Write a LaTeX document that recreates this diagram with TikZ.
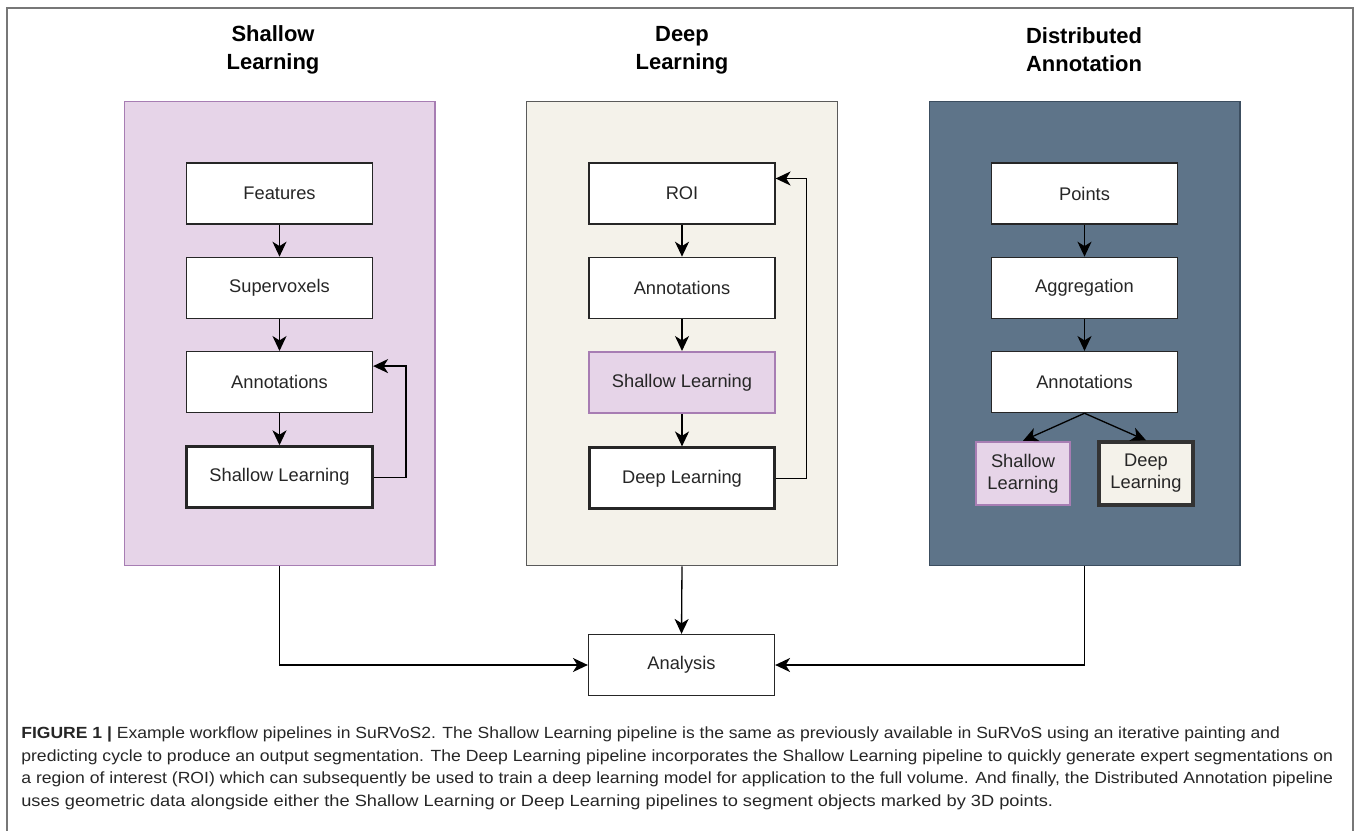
\documentclass[tikz,border=0pt]{standalone}
\usepackage{fontspec}
\setmainfont{Liberation Sans}
\usetikzlibrary{positioning,arrows.meta}

\definecolor{shallowfill}{HTML}{E6D4E8}
\definecolor{shallowline}{HTML}{A77DB3}
\definecolor{deepfill}{HTML}{F4F2EA}
\definecolor{deepline}{HTML}{5A5A5A}
\definecolor{distfill}{HTML}{5E7489}
\definecolor{distline}{HTML}{3C4E60}
\definecolor{framegray}{HTML}{777777}

\tikzset{
	panel/.style={draw, line width=0.6pt, minimum width=6.22cm, minimum height=9.3cm, inner sep=0pt},
	stage/.style={draw=black!85, fill=white, line width=0.75pt, minimum width=3.72cm, minimum height=1.22cm,
		inner sep=0pt, text=black!85, font=\fontsize{10.4}{12}\selectfont},
	model/.style={stage, line width=1.7pt},
	mini/.style={stage, minimum width=1.88cm, minimum height=1.26cm, align=center, font=\fontsize{10.4}{12.5}\selectfont},
	flow/.style={-{Stealth[length=8.5pt,width=8pt,inset=2.5pt]}, line width=0.75pt},
	heading/.style={font=\bfseries\fontsize{12.5}{16}\selectfont, align=center},
	capline/.style={anchor=base west, inner sep=0pt, text=black!85, font=\fontsize{9.2}{11}\selectfont}
}

\begin{document}
\begin{tikzpicture}[x=0.02cm, y=-0.02cm, node distance=0.64cm]
		\useasboundingbox (0,0) rectangle (1355,831);

		% frame
		\draw[framegray, line width=1pt] (7,831) -- (7,8) -- (1353,8) -- (1353,831);

		% panels
		\node[panel, draw=shallowline, fill=shallowfill] (shallow) at (279.5,333.5) {};
		\node[panel, draw=deepline, fill=deepfill] (deep) at (682,333.5) {};
		\node[panel, draw=distline, fill=distfill] (dist) at (1084.5,333.5) {};

		\node[heading] (shallowtitle) at (273,50) {Shallow\\Learning};
		\node[heading] (deeptitle) at (682,50) {Deep\\Learning};
		\node[heading] (disttitle) at (1084,50) {Distributed\\Annotation};

		% shallow learning
		\node[stage] (features) at (279.5,193.5) {Features};
		\node[stage, below=of features] (supervoxels) {Supervoxels};
		\node[stage, below=of supervoxels] (annotA) {Annotations};
		\node[model, below=of annotA] (shallowA) {Shallow Learning};
		\draw[flow] (features) -- (supervoxels);
		\draw[flow] (supervoxels) -- (annotA);
		\draw[flow] (annotA) -- (shallowA);
		\draw[flow] (shallowA.east) -- ++(32,0) |- ([yshift=0.32cm]annotA.east);

		% deep learning
		\node[stage] (roi) at (682,193.5) {ROI};
		\node[stage, below=of roi] (annotB) {Annotations};
		\node[stage, below=of annotB, fill=shallowfill, draw=shallowline, line width=1.4pt] (shallowB) {Shallow Learning};
		\node[model, below=of shallowB] (deepB) {Deep Learning};
		\draw[flow] (roi) -- (annotB);
		\draw[flow] (annotB) -- (shallowB);
		\draw[flow] (shallowB) -- (deepB);
		\draw[flow] (deepB.east) -- ++(30,0) |- ([yshift=0.3cm]roi.east);

		% distributed annotation
		\node[stage] (points) at (1084.5,193.5) {Points};
		\node[stage, below=of points] (aggregation) {Aggregation};
		\node[stage, below=of aggregation] (annotC) {Annotations};
		\node[mini, fill=shallowfill, draw=shallowline, line width=1.4pt] (shallowC) at (1023,473.5) {Shallow\\Learning};
		\node[mini, fill=deepfill, draw=black!80, line width=1.9pt] (deepC) at (1146,473.5) {Deep\\Learning};
		\draw[flow] (points) -- (aggregation);
		\draw[flow] (aggregation) -- (annotC);
		\draw[flow] (annotC.south) -- (shallowC.north);
		\draw[flow] (annotC.south) -- (deepC.north);

		% analysis
		\node[stage] (analysis) at (681.5,665) {Analysis};
		\draw[flow] (shallow.south) |- (analysis.west);
		\draw[flow] (deep.south) -- (analysis.north);
		\draw[flow] (dist.south) |- (analysis.east);

		% caption
		\node[capline] (cap1) at (21,738) {\resizebox{25.18cm}{\height}{\textbf{FIGURE 1 |} Example workflow pipelines in SuRVoS2. The Shallow Learning pipeline is the same as previously available in SuRVoS using an iterative painting and}};
		\node[capline] (cap2) at (21,761) {\resizebox{26.24cm}{\height}{predicting cycle to produce an output segmentation. The Deep Learning pipeline incorporates the Shallow Learning pipeline to quickly generate expert segmentations on}};
		\node[capline] (cap3) at (21,783) {\resizebox{26.24cm}{\height}{a region of interest (ROI) which can subsequently be used to train a deep learning model for application to the full volume. And finally, the Distributed Annotation pipeline}};
		\node[capline] (cap4) at (21,806) {\resizebox{20.64cm}{\height}{uses geometric data alongside either the Shallow Learning or Deep Learning pipelines to segment objects marked by 3D points.}};

	\end{tikzpicture}
\end{document}
